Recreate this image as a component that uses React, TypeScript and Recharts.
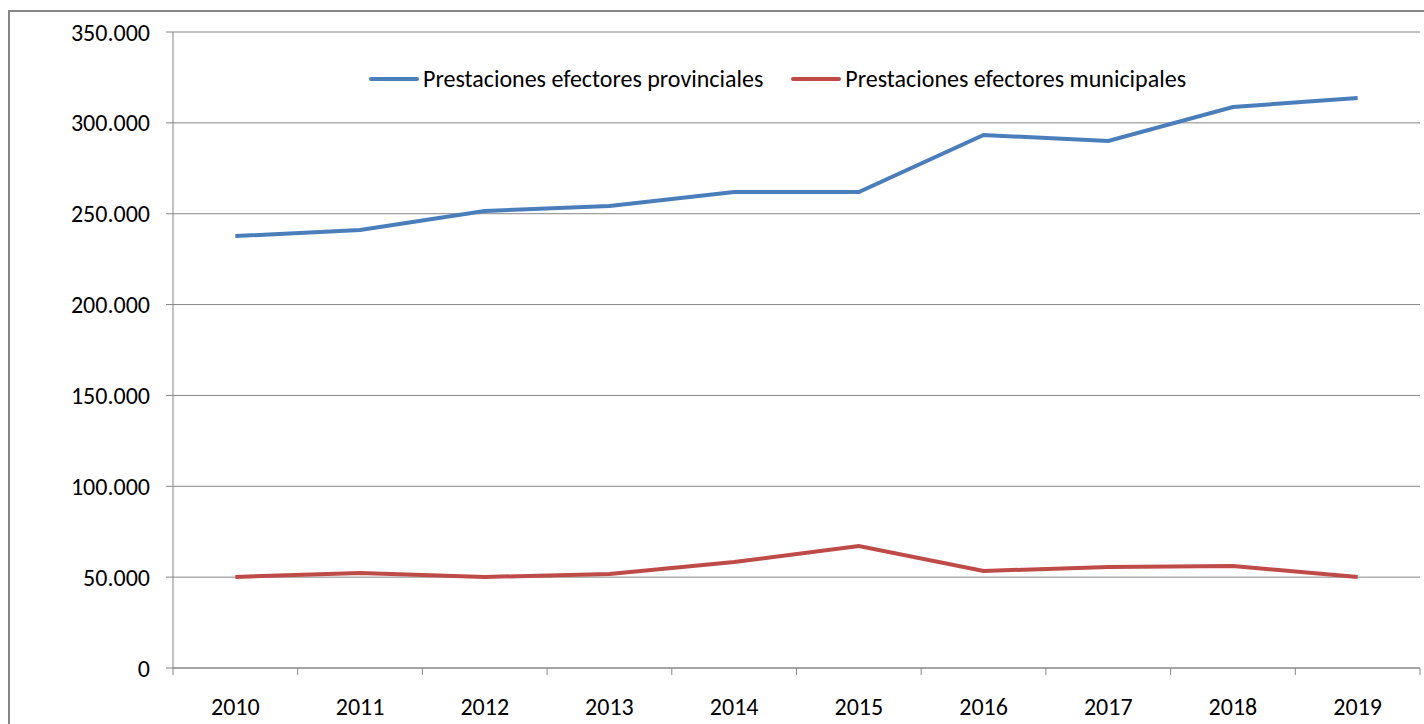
import React from 'react'
import { LineChart, Line, XAxis, YAxis, CartesianGrid, Legend } from 'recharts'

const years = ['2010', '2011', '2012', '2013', '2014', '2015', '2016', '2017', '2018', '2019']
const provinciales = [237700, 241000, 251500, 254200, 261900, 261900, 293300, 290000, 308700, 313700]
const municipales = [50100, 52300, 50100, 51700, 58300, 67100, 53400, 55600, 56100, 50100]
const yTicks = [0, 50000, 100000, 150000, 200000, 250000, 300000, 350000]
const seriesNames = ['Prestaciones efectores provinciales', 'Prestaciones efectores municipales']

const data = years.map((year, i) => ({
  year,
  provinciales: provinciales[i],
  municipales: municipales[i]
}))

const FONT = 'Carlito, Lato, "Open Sans", sans-serif'
const AXIS = '#868686'
const BLUE = '#4a7ebb'
const RED = '#be4b48'
const LABEL_GAP = 30
const TICK_LEN = 7

const formatMiles = (v: number) =>
  v === 0 ? '0' : v.toLocaleString('de-DE')

// etiqueta del eje X + marcas en los bordes de cada categoría (estilo Excel)
function YearTick(props: any) {
  const { x, y, payload, index, visibleTicksCount } = props
  const half = payload?.offset ?? 62.35
  const axisY = y - LABEL_GAP
  const last = index === (visibleTicksCount ?? years.length) - 1
  return (
    <g>
      <line x1={x - half} x2={x - half} y1={axisY} y2={axisY + TICK_LEN} stroke={AXIS} />
      {last && <line x1={x + half} x2={x + half} y1={axisY} y2={axisY + TICK_LEN} stroke={AXIS} />}
      <text x={x} y={y} dy="0.71em" textAnchor="middle" fill="#000" fontSize={24} fontFamily={FONT}>
        {payload.value}
      </text>
    </g>
  )
}

function LegendContent() {
  const items = [
    { label: seriesNames[0], color: BLUE },
    { label: seriesNames[1], color: RED }
  ]
  return (
    <div style={{ display: 'flex', alignItems: 'center', fontFamily: FONT, fontSize: 24, color: '#000' }}>
      {items.map(item => (
        <div key={item.label} style={{ display: 'flex', alignItems: 'center', marginRight: 28, flexShrink: 0 }}>
          <div style={{ width: 50, height: 4, background: item.color, borderRadius: 2, marginRight: 4 }} />
          <span>{item.label}</span>
        </div>
      ))}
    </div>
  )
}

export default function App() {
  return (
    <div style={{ position: 'absolute', left: 0, top: 0, width: 1424, height: 724, overflow: 'hidden', background: '#fff' }}>
      {/* marco exterior: solo se ven los bordes superior e izquierdo */}
      <div style={{
        position: 'absolute', left: 8, top: 10, width: 1500, height: 800,
        borderTop: `2px solid ${AXIS}`, borderLeft: `2px solid ${AXIS}`
      }} />
      <LineChart
        width={1424}
        height={724}
        data={data}
        margin={{ top: 32, right: 4, left: 93, bottom: 0 }}
        style={{ position: 'absolute', left: 0, top: 0 }}
      >
        <CartesianGrid vertical={false} stroke={AXIS} />
        <XAxis
          dataKey="year"
          scale="band"
          height={56}
          axisLine={{ stroke: AXIS }}
          tickLine={false}
          tickSize={0}
          tickMargin={LABEL_GAP}
          interval={0}
          tick={<YearTick />}
        />
        <YAxis
          width={80}
          domain={[0, 350000]}
          ticks={yTicks}
          tickFormatter={formatMiles}
          tickSize={TICK_LEN}
          tickMargin={16}
          axisLine={{ stroke: AXIS }}
          tickLine={{ stroke: AXIS }}
          tick={{ fill: '#000', fontSize: 24, fontFamily: FONT }}
        />
        {/* layout vertical + middle: no reserva espacio en el área del gráfico */}
        <Legend
          layout="vertical"
          verticalAlign="middle"
          align="center"
          content={<LegendContent />}
          wrapperStyle={{ position: 'absolute', top: 64, left: 369, width: 900, height: 'auto' }}
        />
        <Line
          dataKey="provinciales"
          name={seriesNames[0]}
          stroke={BLUE}
          strokeWidth={4}
          dot={false}
          isAnimationActive={false}
        />
        <Line
          dataKey="municipales"
          name={seriesNames[1]}
          stroke={RED}
          strokeWidth={4}
          dot={false}
          isAnimationActive={false}
        />
      </LineChart>
    </div>
  )
}
